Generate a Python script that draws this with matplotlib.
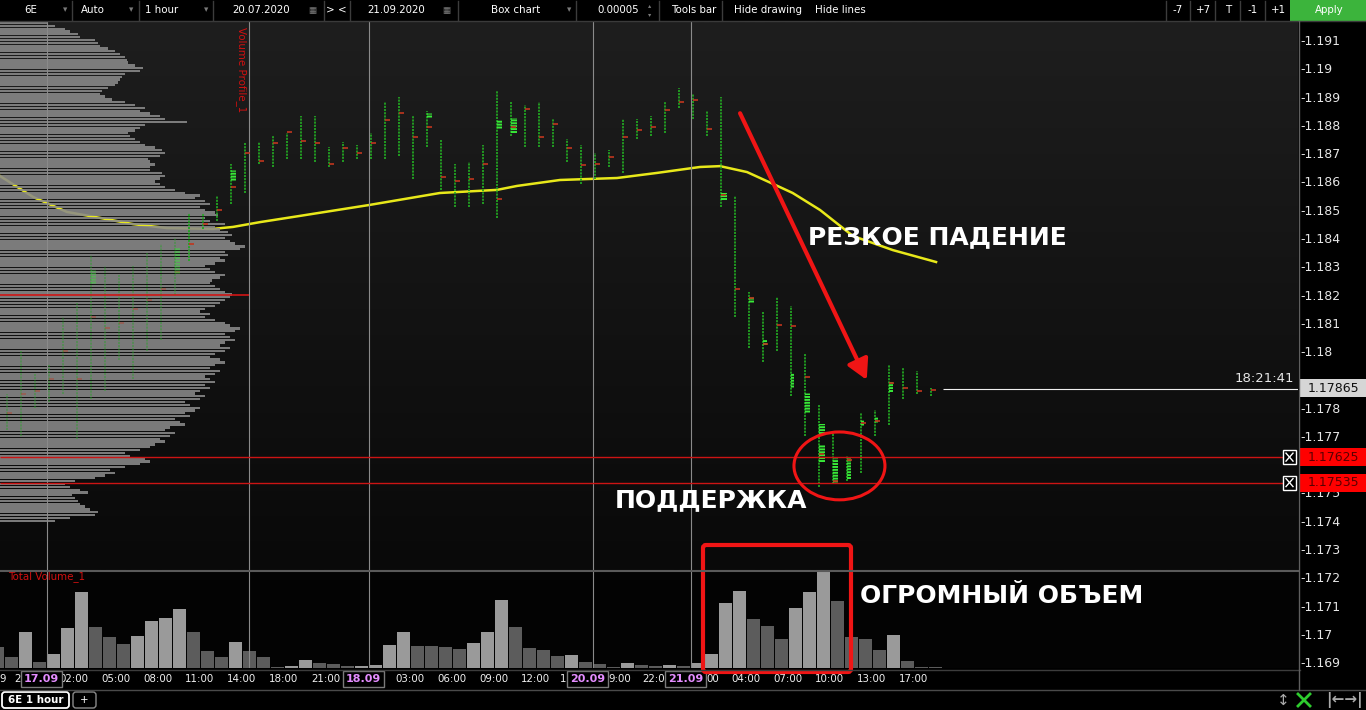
import numpy as np
import matplotlib
matplotlib.use("Agg")
import matplotlib.pyplot as plt
import matplotlib.font_manager as fm
import matplotlib.transforms as mtransforms
from matplotlib.patches import Rectangle, Ellipse, FancyBboxPatch, FancyArrowPatch
from matplotlib.colors import LinearSegmentedColormap

plt.rcParams["lines.scale_dashes"] = False

# ---------- data (6E, 1 hour) ----------
bars = list(range(-1, 67))  # hourly bars, bar 3 = 00:00 17.09

bar_high = [1.1790, 1.1785, 1.1800, 1.1792, 1.1795, 1.1812, 1.1817, 1.1834, 1.1830,
            1.1827, 1.1830, 1.1835, 1.1838, 1.1840, 1.1849, 1.1849, 1.1855, 1.1866,
            1.1874, 1.1874, 1.1876, 1.1877, 1.1883, 1.1883, 1.1872, 1.1874, 1.1873, 1.1877,
            1.1888, 1.1890, 1.1883, 1.1885, 1.1875, 1.1866, 1.1867, 1.1873, 1.1892, 1.1888,
            1.1887, 1.1888, 1.1882, 1.1875, 1.1873, 1.1870, 1.1871, 1.1882, 1.1882, 1.1883,
            1.1888, 1.1893, 1.1891, 1.1885, 1.1890, 1.1855, 1.1821, 1.1814, 1.1819, 1.1816,
            1.1799, 1.1781, 1.1771, 1.1763, 1.1778, 1.1779, 1.1795, 1.1794, 1.1793, 1.1787]
bar_low = [1.1768, 1.1772, 1.1770, 1.1780, 1.1782, 1.1785, 1.1769, 1.1783, 1.1786,
           1.1797, 1.1790, 1.1800, 1.1804, 1.1820, 1.1832, 1.1843, 1.1846, 1.1852,
           1.1856, 1.1866, 1.1865, 1.1868, 1.1868, 1.1867, 1.1865, 1.1867, 1.1868, 1.1868,
           1.1868, 1.1869, 1.1861, 1.1872, 1.1857, 1.1851, 1.1851, 1.1852, 1.1847, 1.1876,
           1.1872, 1.1872, 1.1872, 1.1867, 1.1859, 1.1861, 1.1865, 1.1863, 1.1875, 1.1876,
           1.1877, 1.1886, 1.1882, 1.1876, 1.1851, 1.1812, 1.1801, 1.1796, 1.1800, 1.1784,
           1.1770, 1.1752, 1.1753, 1.1754, 1.1757, 1.1770, 1.1774, 1.1783, 1.1785, 1.1784]
bar_poc = [1.1780, 1.1778, 1.1785, 1.1786, 1.1790, 1.1800, 1.1790, 1.1812, 1.1808,
           1.1810, 1.1815, 1.1818, 1.1822, 1.1828, 1.1838, 1.1845, 1.1850, 1.1858,
           1.18701, 1.18673, 1.18736, 1.18775, 1.18744, 1.18736, 1.18662, 1.18718, 1.18701, 1.18736,
           1.18817, 1.18843, 1.18758, 1.18793, 1.18616, 1.18602, 1.18609, 1.18662, 1.18539, 1.18793,
           1.18857, 1.18758, 1.18802, 1.18717, 1.18658, 1.18662, 1.18687, 1.18758, 1.18782, 1.18793,
           1.18851, 1.18882, 1.18888, 1.18784, 1.18552, 1.18220, 1.18188, 1.18025, 1.18092, 1.18089,
           1.17910, 1.17636, 1.17542, 1.17615, 1.17747, 1.17753, 1.17886, 1.17868, 1.17860, 1.17862]
volume = [21, 11, 36, 6, 14, 40, 76, 41, 31, 24, 32, 47, 50, 59, 36, 17, 11, 26,
          17, 11, 1, 2, 8, 5, 4, 2, 2, 3,
          23, 36, 22, 22, 21, 19, 25, 36, 68, 41,
          20, 18, 12, 13, 6, 4, 1, 5, 3, 2,
          3, 2, 5, 14, 65, 77, 49, 42, 29, 60,
          76, 97, 67, 31, 29, 18, 33, 7, 1, 1]
bar_up = [0, 0, 1, 0, 1, 1, 1, 0, 0, 0, 1, 1, 1, 1, 0, 0, 0, 1,
          0, 0, 0, 1, 1, 0, 0, 0, 1, 1,
          1, 1, 0, 0, 0, 0, 1, 1, 1, 0,
          0, 0, 0, 1, 0, 0, 0, 1, 0, 0,
          1, 0, 1, 1, 1, 1, 0, 0, 0, 1,
          1, 1, 0, 0, 0, 0, 1, 0, 0, 0]

# bright volume-at-price clusters inside some bars (bar, from, to, width px)
cluster_bar = [6, 12, 16, 30, 35, 36, 51, 53, 54, 56, 57, 58, 58, 59, 60, 61, 62, 63]
cluster_lo = [1.18241, 1.18276, 1.18605, 1.18828, 1.18789, 1.18771, 1.18534, 1.18174, 1.18021,
              1.17873, 1.17785, 1.17707, 1.17608, 1.17537, 1.17548, 1.17739, 1.17749, 1.17855]
cluster_hi = [1.18287, 1.18368, 1.18640, 1.18842, 1.18817, 1.18824, 1.18559, 1.18191, 1.18039,
              1.17922, 1.17852, 1.17742, 1.17668, 1.17622, 1.17625, 1.17756, 1.17767, 1.17891]
cluster_w = [5, 5, 5, 5, 5, 6, 6, 5, 4, 3, 5, 6, 6, 5, 4, 3, 3, 4]

# volume profile, one row per 0.0001 from 1.1740 upwards
profile_start = 1.1740
profile_step = 0.0001
profile_vol = [55, 70, 95, 98, 90, 85, 80, 78, 75, 72,
               88, 80, 70, 65, 75, 95, 105, 115, 110, 125,
               140, 150, 145, 130, 125, 140, 150, 155, 165, 160,
               170, 175, 165, 170, 185, 180, 175, 190, 185, 195,
               200, 190, 185, 200, 205, 195, 200, 210, 205, 215,
               210, 205, 215, 220, 210, 215, 225, 220, 210, 215,
               225, 230, 220, 225, 235, 230, 225, 235, 240, 230,
               225, 215, 205, 210, 200, 205, 215, 220, 225, 230,
               232, 225, 220, 215, 210, 212, 220, 225, 215, 210,
               205, 215, 225, 220, 228, 225, 240, 245, 235, 230,
               225, 232, 228, 220, 215, 225, 210, 205, 218, 215,
               205, 200, 210, 205, 195, 200, 185, 175, 165, 160,
               155, 160, 165, 162, 150, 150, 155, 150, 148, 160,
               165, 162, 155, 145, 140, 135, 130, 128, 135, 140,
               145, 187, 165, 160, 150, 140, 145, 135, 125, 112,
               105, 100, 102, 108, 115, 118, 120, 122, 125, 140,
               143, 135, 128, 127, 125, 120, 115, 108, 100, 98,
               95, 80, 78, 70, 65, 55, 48]
profile_poc = 1.1820

# moving average, read at a few bars
ma_bar = [-0.82, 1.54, 3.96, 6.32, 8.68, 11.11, 14.39, 15.82, 17.75, 20.6, 25.6, 30.6, 34.68,
          36.11, 39.18, 43.25, 46.11, 49.18, 50.61, 52.54, 54.4, 55.8, 57.75, 60.1, 62.96, 66.04]
ma_val = [1.18619, 1.18545, 1.18492, 1.18471, 1.18449, 1.18435, 1.18432, 1.18439, 1.18456,
          1.18478, 1.18517, 1.18559, 1.18570, 1.18584, 1.18605, 1.18612, 1.18630, 1.18651,
          1.18654, 1.18633, 1.18591, 1.18559, 1.18499, 1.18407, 1.18357, 1.18315]

support = [1.17625, 1.17535]
last_price = 1.17865
last_time = "18:21:41"

time_bar = [5, 8, 11, 14, 17, 20, 23, 29, 32, 35, 38, 53, 56, 59, 62, 65]
time_text = ["02:00", "05:00", "08:00", "11:00", "14:00", "18:00", "21:00",
             "03:00", "06:00", "09:00", "12:00", "04:00", "07:00", "10:00", "13:00", "17:00"]
date_bar = [3, 26, 42, 49]
date_text = ["17.09", "18.09", "20.09", "21.09"]
# time labels cut by a date box: visible part left / right of the box
cut_left = {3: "2", 42: "1", 49: "22:0"}
cut_right = {42: "9:00", 49: "00"}
session_lines = [3, 17.43, 26, 42, 49]
price_ticks = [round(1.169 + 0.001 * i, 3) for i in range(23)]
hidden_ticks = [1.176, 1.179]  # covered by the price boxes on the scale

# ---------- fonts ----------
names = {f.name for f in fm.fontManager.ttflist}
if "Liberation Sans Narrow" in names:
    NARROW, NS = ["Liberation Sans Narrow", "DejaVu Sans"], 1.0
else:
    NARROW, NS = ["DejaVu Sans"], 0.78

# ---------- window geometry ----------
W, H = 1366, 710
PANEL_R, PANEL_T, VOL_T, VOL_B = 1298, 22, 570, 668
x_lo = (0 - 11.5) / 14
x_hi = (PANEL_R - 11.5) / 14


def px2price(py):
    return 1.191 - (py - 40) / 28280


RED = "#f01515"
fig = plt.figure(figsize=(W / 100, H / 100), dpi=100, facecolor="black")

# ---------- price panel ----------
ax = fig.add_axes([0, 1 - VOL_B / H, PANEL_R / W, (VOL_B - PANEL_T) / H])
ax.set_facecolor("#080808")
bg = LinearSegmentedColormap.from_list("bg", ["#1e1e1e", "#090909"])
ax.imshow(np.linspace(0, 1, 200).reshape(-1, 1), cmap=bg, aspect="auto",
          extent=[x_lo, x_hi, px2price(VOL_T), px2price(PANEL_T)], zorder=0)

ax.plot(ma_bar, ma_val, color="#e8e81a", lw=1.8, zorder=2.5)

prof_y = [profile_start + profile_step * i for i in range(len(profile_vol))]
ax.barh(prof_y, np.array(profile_vol) / 14, left=x_lo, height=0.00008,
        color="#8a8a8a", alpha=0.88, linewidth=0, zorder=3)
ax.hlines(profile_poc, x_lo, (249 - 11.5) / 14, color="#d01515", lw=1.2, zorder=6)

b = np.array(bars)
hi = np.array(bar_high)
lo = np.array(bar_low)
poc = np.array(bar_poc)
bx = b - 0.34
early = b <= 12
for m, a, z in [(early, 0.45, 4), (~early, 1.0, 5)]:
    ax.vlines(bx[m], lo[m], hi[m], colors="#22a422", lw=1.3,
              linestyles=(0, (1.5, 0.8)), alpha=a, zorder=z)
    ax.hlines(poc[m], bx[m], bx[m] + 0.38, colors="#c0361e", lw=1.2, alpha=a, zorder=z + 1)
for cb, clo, chi, w in zip(cluster_bar, cluster_lo, cluster_hi, cluster_w):
    a = 0.45 if cb <= 12 else 1.0
    ax.vlines(cb - 0.34 + w / 28, clo, chi, colors="#38e838", lw=w * 0.72,
              linestyles=(0, (1.4, 0.7)), alpha=a, zorder=5)

for s in session_lines:
    ax.axvline(s - 0.464, color="#8a8a8a", lw=0.8, zorder=5.5)

ax.hlines(support, x_lo, (1283 - 11.5) / 14, colors="#cc1414", lw=1, zorder=6)
ax.hlines(last_price, (943 - 11.5) / 14, x_hi, colors="#f0f0f0", lw=0.8, zorder=6)

ax.add_patch(FancyArrowPatch((52.04, 1.18841), (61.09, 1.17898),
                             arrowstyle="-|>,head_length=1.0,head_width=0.55",
                             mutation_scale=12, color=RED, lw=3, shrinkA=0, shrinkB=0, zorder=8))
ax.add_patch(Ellipse((59.14, 1.17594), 6.5, 0.0024, fill=False, ec=RED, lw=2.2, zorder=8))

ax.set_xlim(x_lo, x_hi)
ax.set_ylim(px2price(VOL_B), px2price(PANEL_T))
ax.set_xticks([])
ax.yaxis.tick_right()
ax.set_yticks(price_ticks)
ax.set_yticklabels(["" if t in hidden_ticks else f"-{t:g}" for t in price_ticks])
ax.tick_params(axis="y", length=0, pad=1.5, labelsize=9, labelcolor="#e6e6e6")
for sp in ax.spines.values():
    sp.set_visible(False)

# right-side price boxes
trans = mtransforms.blended_transform_factory(ax.transAxes, ax.transData)
pp = 1 / 28280  # price per pixel
for p in support:
    ax.add_patch(Rectangle((1300 / PANEL_R, p - 9 * pp), 66 / PANEL_R, 18 * pp, transform=trans,
                           fc="#ff0000", ec="none", clip_on=False, zorder=9))
    ax.text(1333 / PANEL_R, p, f"{p:.5f}", transform=trans, ha="center", va="center",
            color="#5a0000", fontsize=9, clip_on=False, zorder=10)
    ax.add_patch(Rectangle((1283 / PANEL_R, p - 7 * pp), 13 / PANEL_R, 14 * pp, transform=trans,
                           fc="black", ec="white", lw=1, clip_on=False, zorder=9))
    ax.plot([1286 / PANEL_R, 1293 / PANEL_R], [p - 4 * pp, p + 4 * pp], transform=trans,
            color="white", lw=1, clip_on=False, zorder=10)
    ax.plot([1286 / PANEL_R, 1293 / PANEL_R], [p + 4 * pp, p - 4 * pp], transform=trans,
            color="white", lw=1, clip_on=False, zorder=10)
ax.add_patch(Rectangle((1300 / PANEL_R, last_price - 8 * pp), 66 / PANEL_R, 18 * pp, transform=trans,
                       fc="#d6d6d6", ec="none", clip_on=False, zorder=9))
ax.text(1333 / PANEL_R, last_price + pp, f"{last_price:.5f}", transform=trans, ha="center",
        va="center", color="#101010", fontsize=9, clip_on=False, zorder=10)
ax.annotate(last_time, xy=(1294 / PANEL_R, last_price), xycoords=trans, xytext=(0, 3),
            textcoords="offset points", ha="right", va="bottom", color="#e6e6e6", fontsize=9.5,
            annotation_clip=False, zorder=10)

# ---------- volume panel ----------
axv = fig.add_axes([0, 1 - VOL_B / H, PANEL_R / W, (VOL_B - VOL_T) / H], zorder=2)
axv.set_facecolor("#030303")
axv.bar(bars, volume, width=13 / 14, linewidth=0,
        color=["#9a9a9a" if u else "#5c5c5c" for u in bar_up])
for s in session_lines:
    axv.axvline(s - 0.464, color="#8a8a8a", lw=0.8)
axv.set_xlim(x_lo, x_hi)
axv.set_ylim(0, 98)
axv.set_xticks([])
axv.set_yticks([])
for sp in axv.spines.values():
    sp.set_visible(False)

xt = axv.get_xaxis_transform()
tkw = dict(transform=xt, va="center", color="#f0f0f0", fontsize=9.5 * NS, family=NARROW,
           clip_on=False)
for tb_, tt in zip(time_bar, time_text):
    axv.text(tb_ - 0.57, -0.112, tt, ha="center", **tkw)
axv.text(-0.61, -0.112, "9", ha="center", **tkw)
for db, dt in zip(date_bar, date_text):
    c = db - 0.857
    axv.text(c, -0.112, dt, transform=xt, ha="center", va="center", color="#e48cff",
             fontsize=8, fontweight="bold", clip_on=False, zorder=5,
             bbox=dict(boxstyle="square,pad=0.3", fc="black", ec="#7a7a7a", lw=1))
    if db in cut_left:
        axv.text(c - 1.5, -0.112, cut_left[db], ha="right", **tkw)
    if db in cut_right:
        axv.text(c + 1.5, -0.112, cut_right[db], ha="left", **tkw)

# ---------- window chrome / overlay ----------
ov = fig.add_axes([0, 0, 1, 1], zorder=10)
ov.set_xlim(0, W)
ov.set_ylim(H, 0)
ov.axis("off")


def label(x, y, s, size=9.5, color="white", ha="center", **kw):
    ov.text(x, y, s, ha=ha, va="center", color=color, fontsize=size * NS, family=NARROW, **kw)


# toolbar
for x in [72, 139, 213, 324, 350, 458, 576, 659, 722, 1166, 1190, 1215, 1240, 1265]:
    ov.plot([x, x], [1, 20], color="#3c3c3c", lw=1)
ov.plot([0, W], [21, 21], color="#3a3a3a", lw=1)
label(31, 10, "6E")
label(93, 10, "Auto")
label(162, 10, "1 hour")
label(261, 10, "20.07.2020")
label(330, 10, ">")
label(342, 10, "<")
label(396, 10, "21.09.2020")
label(516, 10, "Box chart")
label(618, 10, "0.00005")
label(694, 10, "Tools bar")
label(768, 10, "Hide drawing")
label(840, 10, "Hide lines")
for x in [65, 131, 206, 569]:
    label(x, 10, "▾", size=8, color="#7a7a7a")
for x in [312, 446]:
    label(x, 10, "▦", size=8, color="#7a7a7a")
label(650, 6, "▴", size=6, color="#7a7a7a")
label(650, 15, "▾", size=6, color="#7a7a7a")
for x, s in zip([1178, 1203, 1228, 1253, 1278], ["-7", "+7", "T", "-1", "+1"]):
    label(x, 10, s)
ov.add_patch(Rectangle((1290, 0), 76, 20.5, fc="#3cb43c", ec="none"))
label(1329, 10, "Apply")

# panel borders
ov.plot([0, PANEL_R], [570.5, 570.5], color="#5a5a5a", lw=1.5)
ov.plot([0, 1300], [669.5, 669.5], color="#3c3c3c", lw=1)
ov.plot([0, W], [690, 690], color="#4a4a4a", lw=1)
ov.plot([1298.5, 1298.5], [21, 690], color="#5e5e5e", lw=1)

# indicator names
label(8, 577, "Total Volume_1", color="#d01010", ha="left")
ov.text(241, 27, "Volume Profile_1", rotation=270, ha="center", va="top", color="#d01010",
        fontsize=9.5 * NS, family=NARROW)

# bottom tabs
ov.add_patch(FancyBboxPatch((2, 692), 67, 16, boxstyle="round,pad=0,rounding_size=3",
                            fc="black", ec="white", lw=1.3))
label(35.5, 700, "6E 1 hour", fontweight="bold")
ov.add_patch(FancyBboxPatch((73, 692), 23, 16, boxstyle="round,pad=0,rounding_size=3",
                            fc="black", ec="#8a8a8a", lw=1))
label(84.5, 700, "+")
ov.text(1283, 700, "↕", ha="center", va="center", color="#aaaaaa", fontsize=11)
ov.plot([1298, 1310], [694, 706], color="#2ecc2e", lw=2)
ov.plot([1298, 1310], [706, 694], color="#2ecc2e", lw=2)
ov.text(1344, 700, "|←→|", ha="center", va="center", color="#aaaaaa", fontsize=11, fontweight="bold")

# annotations
ov.text(808, 237, "РЕЗКОЕ ПАДЕНИЕ", ha="left", va="center", color="white",
        fontsize=18, fontweight="bold")
ov.text(615, 500, "ПОДДЕРЖКА", ha="left", va="center", color="white",
        fontsize=18, fontweight="bold")
ov.text(860, 596, "ОГРОМНЫЙ ОБЪЕМ", ha="left", va="center", color="white",
        fontsize=18, fontweight="bold")
ov.add_patch(FancyBboxPatch((703, 545), 148, 127, boxstyle="round,pad=0,rounding_size=3",
                            fill=False, ec=RED, lw=3))

fig.savefig("out.png", dpi=100, facecolor="black")
